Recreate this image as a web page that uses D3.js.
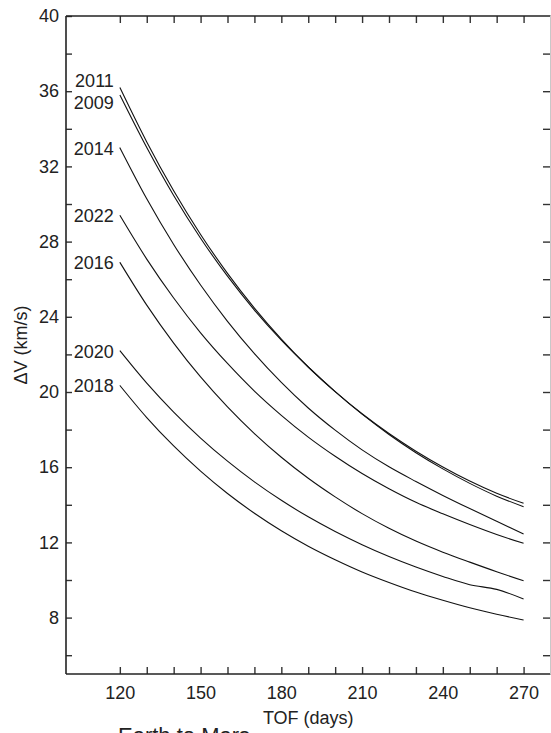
<!DOCTYPE html>
<html>
<head>
<meta charset="utf-8">
<script src="https://cdn.jsdelivr.net/npm/d3@7"></script>
<style>
  html, body { margin: 0; padding: 0; background: #fff; overflow: hidden; }
  svg { display: block; }
  text { font-family: "Liberation Sans", Arial, Helvetica, sans-serif; fill: #222; }
</style>
</head>
<body>
<svg id="chart" width="551" height="733"></svg>
<script>
// Time of flight (days) sampled every 10 days
const tof = [120, 130, 140, 150, 160, 170, 180, 190, 200, 210, 220, 230, 240, 250, 260, 270];

// Total ΔV (km/s) per launch year
const dv2011 = [36.20, 33.30, 30.70, 28.38, 26.31, 24.46, 22.81, 21.33, 20.02, 18.84, 17.79, 16.85, 16.01, 15.26, 14.61, 14.08];
const dv2009 = [35.80, 33.00, 30.45, 28.18, 26.16, 24.36, 22.76, 21.33, 20.02, 18.82, 17.74, 16.77, 15.91, 15.14, 14.46, 13.90];
const dv2014 = [33.00, 30.28, 27.85, 25.69, 23.76, 22.04, 20.51, 19.15, 17.97, 16.92, 16.02, 15.24, 14.50, 13.80, 13.12, 12.45];
const dv2022 = [29.40, 27.07, 25.00, 23.15, 21.52, 20.05, 18.76, 17.60, 16.58, 15.66, 14.85, 14.13, 13.52, 12.95, 12.42, 11.95];
const dv2016 = [26.90, 24.62, 22.60, 20.80, 19.21, 17.79, 16.53, 15.41, 14.42, 13.53, 12.75, 12.07, 11.48, 10.95, 10.44, 9.96];
const dv2020 = [22.20, 20.47, 18.93, 17.55, 16.32, 15.22, 14.24, 13.36, 12.58, 11.88, 11.25, 10.69, 10.19, 9.75, 9.50, 8.99];
const dv2018 = [20.35, 18.64, 17.13, 15.79, 14.60, 13.55, 12.62, 11.80, 11.08, 10.43, 9.87, 9.36, 8.92, 8.52, 8.18, 7.87];

const years = ["2011", "2009", "2014", "2022", "2016", "2020", "2018"];
const seriesValues = [dv2011, dv2009, dv2014, dv2022, dv2016, dv2020, dv2018];

// Axis ticks and labels
const xTicks = d3.range(120, 271, 10);
const xLabelTicks = [120, 150, 180, 210, 240, 270];
const yTicks = d3.range(6, 39, 2);
const yLabelTicks = [8, 12, 16, 20, 24, 28, 32, 36, 40];
const xTitle = "TOF (days)";
const yTitle = "\u0394V (km/s)";
const caption = "Earth to Mars";

const svg = d3.select("#chart");
const plotLeft = 66, plotRight = 550.5, plotTop = 16, plotBottom = 674;

const x = d3.scaleLinear().domain([100, 280]).range([plotLeft, plotRight]);
const y = d3.scaleLinear().domain([5, 40]).range([plotBottom, plotTop]);

const fmtX = d => xLabelTicks.includes(d) ? String(d) : "";
const fmtY = d => yLabelTicks.includes(d) ? String(d) : "";

function styleAxis(g) {
  g.select(".domain").remove();
  g.selectAll(".tick line").attr("stroke", "#333").attr("stroke-width", 1.4);
  g.selectAll(".tick text").attr("font-size", 18).attr("fill", "#222")
    .attr("font-family", "'Liberation Sans', Arial, sans-serif");
}

// Bottom axis with labels, inward ticks
svg.append("g").attr("transform", `translate(0,${plotBottom})`)
  .call(d3.axisBottom(x).tickValues(xTicks).tickFormat(fmtX).tickSize(-7).tickPadding(12))
  .call(styleAxis);
// Top axis, ticks only
svg.append("g").attr("transform", `translate(0,${plotTop})`)
  .call(d3.axisTop(x).tickValues(xTicks).tickFormat("").tickSize(-7))
  .call(styleAxis);
// Left axis with labels
svg.append("g").attr("transform", `translate(${plotLeft},0)`)
  .call(d3.axisLeft(y).tickValues(yTicks.concat([40])).tickFormat(fmtY).tickSize(-6).tickPadding(7))
  .call(styleAxis);
// Right axis, ticks only
svg.append("g").attr("transform", `translate(${plotRight - 0.5},0)`)
  .call(d3.axisRight(y).tickValues(yTicks).tickFormat("").tickSize(-7))
  .call(styleAxis);

// Frame
svg.append("line").attr("x1", plotLeft).attr("x2", plotRight).attr("y1", plotTop).attr("y2", plotTop)
  .attr("stroke", "#222").attr("stroke-width", 1.6);
svg.append("line").attr("x1", plotLeft).attr("x2", plotRight).attr("y1", plotBottom).attr("y2", plotBottom)
  .attr("stroke", "#222").attr("stroke-width", 1.6);
svg.append("line").attr("x1", plotLeft).attr("x2", plotLeft).attr("y1", plotTop).attr("y2", plotBottom)
  .attr("stroke", "#222").attr("stroke-width", 1.6);
svg.append("line").attr("x1", plotRight).attr("x2", plotRight).attr("y1", plotTop).attr("y2", plotBottom)
  .attr("stroke", "#c8c8c8").attr("stroke-width", 1);

// Curves
const line = d3.line().x((d, i) => x(tof[i])).y(d => y(d)).curve(d3.curveMonotoneX);
svg.append("g").selectAll("path").data(seriesValues).join("path")
  .attr("d", line)
  .attr("fill", "none")
  .attr("stroke", "#111")
  .attr("stroke-width", 1.1);

// Year labels at the start of each curve, spread apart where they would collide
const labels = years.map((yr, i) => ({ yr, pos: y(seriesValues[i][0]) + 7 }))
  .sort((a, b) => a.pos - b.pos);
const minGap = 22;
for (let iter = 0; iter < 20; iter++) {
  for (let i = 1; i < labels.length; i++) {
    const gap = labels[i].pos - labels[i - 1].pos;
    if (gap < minGap) {
      const push = (minGap - gap) / 2;
      labels[i].pos += push;
      labels[i - 1].pos -= push;
    }
  }
}
svg.append("g").selectAll("text").data(labels).join("text")
  .attr("x", x(tof[0]) - 6)
  .attr("y", d => d.pos)
  .attr("text-anchor", "end")
  .attr("font-size", 18)
  .text(d => d.yr);

// Axis titles
svg.append("text")
  .attr("x", (plotLeft + plotRight) / 2)
  .attr("y", 724)
  .attr("text-anchor", "middle")
  .attr("font-size", 18)
  .text(xTitle);
svg.append("text")
  .attr("transform", `translate(27,${(plotTop + plotBottom) / 2}) rotate(-90)`)
  .attr("text-anchor", "middle")
  .attr("font-size", 18)
  .text(yTitle);

// Caption line running off the bottom of the page
svg.append("text")
  .attr("x", 118)
  .attr("y", 743)
  .attr("font-size", 22)
  .attr("font-family", "'Liberation Serif', 'Times New Roman', serif")
  .text(caption);
</script>
</body>
</html>
